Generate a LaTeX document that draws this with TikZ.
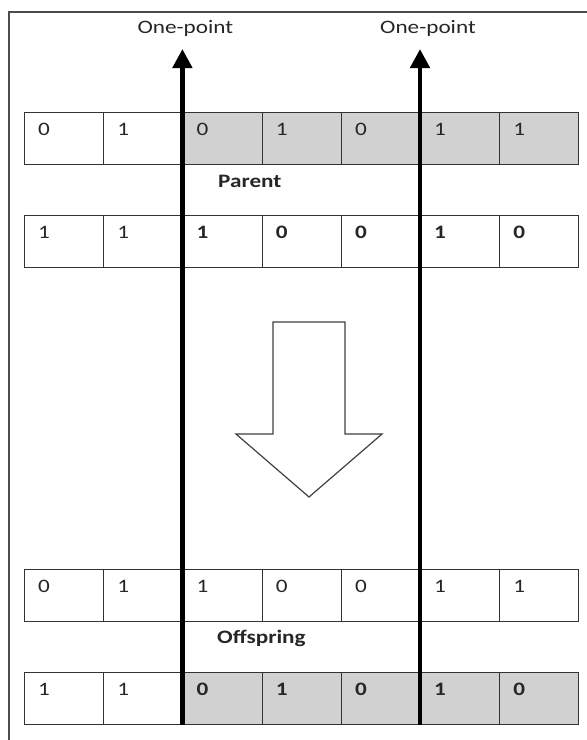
\documentclass[tikz,border=0pt]{standalone}
\usepackage{fontspec}
\setmainfont{Carlito}[FakeStretch=1.22]
\usetikzlibrary{positioning,arrows.meta,calc}
\tikzset{
  >={Triangle[width=19pt,length=19pt]},
  cell/.style={draw=black!80, line width=1pt, minimum width=79.2pt, minimum height=52pt,
               anchor=north west, inner sep=0pt},
  sel/.style={cell, fill=black!18},
  bit/.style={anchor=base west, inner sep=0pt, font=\fontsize{19}{22}\selectfont, text=black!85},
  hot/.style={bit, font=\fontsize{19}{22}\selectfont\bfseries},
  cut/.style={->, line width=4.6pt},
  lab/.style={inner sep=0pt, font=\fontsize{19}{22}\selectfont, text=black!85},
  tag/.style={lab, font=\fontsize{19}{22}\selectfont\bfseries, anchor=base west}
}

\begin{document}
\begin{tikzpicture}[x=1pt, y=-1pt]
\useasboundingbox (0,0) rectangle (587,740);
\draw[black!70, line width=1.3pt] (9,740) -- (9,12) -- (587,12);
% parents
\foreach \v [count=\i] in {0,1,0,1,0,1,1}{
  \ifnum\i>2 \def\st{sel}\else\def\st{cell}\fi
  \node[\st] (pa\i) at ({24+79.2*(\i-1)},112) {};
  \node[bit] (pa\i v) at ([shift={(14,23)}]pa\i.north west) {\v};
}
\foreach \v [count=\i] in {1,1,1,0,0,1,0}{
  \ifnum\i>2 \def\ft{hot}\else\def\ft{bit}\fi
  \node[cell] (pb\i) at ({24+79.2*(\i-1)},215) {};
  \node[\ft] (pb\i v) at ([shift={(14,23)}]pb\i.north west) {\v};
}
\node[tag] (par) at (218,187) {Parent};
% offspring
\foreach \v [count=\i] in {0,1,1,0,0,1,1}{
  \node[cell] (oa\i) at ({24+79.2*(\i-1)},569) {};
  \node[bit] (oa\i v) at ([shift={(14,23)}]oa\i.north west) {\v};
}
\foreach \v [count=\i] in {1,1,0,1,0,1,0}{
  \ifnum\i>2 \def\st{sel}\def\ft{hot}\else\def\st{cell}\def\ft{bit}\fi
  \node[\st] (ob\i) at ({24+79.2*(\i-1)},672) {};
  \node[\ft] (ob\i v) at ([shift={(14,23)}]ob\i.north west) {\v};
}
\node[tag] (off) at (217,643) {Offspring};
% big arrow
\draw[black!75, line width=1.2pt, fill=white]
  (273,322) -- (345,322) -- (345,434) -- (382,434) -- (309,497) -- (236,434) -- (273,434) -- cycle;
% crossover points
\coordinate (t1) at ($(pa3.north west)+(0,-63)$);
\coordinate (t2) at ($(pa6.north west)+(0,-63)$);
\draw[cut] (ob3.south west) -- (t1);
\draw[cut] (ob6.south west) -- (t2);
\node[lab, anchor=base] (op1) at ($(t1)+(3,-16)$) {One-point};
\node[lab, anchor=base] (op2) at ($(t2)+(8,-16)$) {One-point};
\end{tikzpicture}
\end{document}
